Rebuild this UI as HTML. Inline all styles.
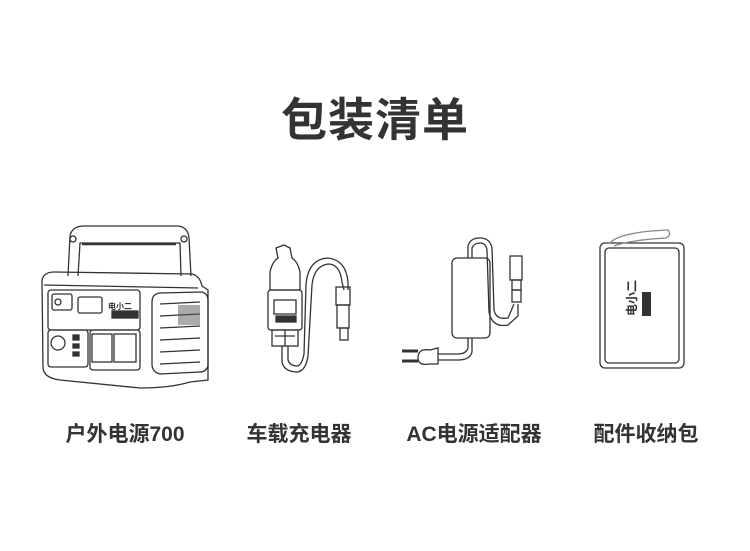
<!DOCTYPE html>
<html><head><meta charset="utf-8"><style>
html,body{margin:0;padding:0;background:#fff;}
body{width:750px;height:551px;position:relative;overflow:hidden;font-family:"Liberation Sans","Noto Sans CJK SC",sans-serif;}
.t{position:absolute;left:0;width:750px;top:84px;text-align:center;font-size:46px;font-weight:bold;color:#333;letter-spacing:1px;}
.l{position:absolute;top:418px;font-size:21px;font-weight:bold;color:#333;transform:translateX(-50%);white-space:nowrap;}
svg{position:absolute;left:0;top:0;}
</style></head><body>
<div class="t">包装清单</div>
<div class="l" style="left:125px">户外电源700</div>
<div class="l" style="left:299px">车载充电器</div>
<div class="l" style="left:474px">AC电源适配器</div>
<div class="l" style="left:646px">配件收纳包</div>
<svg width="750" height="551" fill="none" stroke="#333" stroke-width="1.3">
<path d="M68,276 L70,236 Q72,226 84,226 L178,226 Q188,227 189,238 L191,276"/>
<path d="M78,276 L80,243 L180,243 L181,276"/>
<path d="M82,244 L176,244" stroke-width="2.5"/>
<circle cx="73" cy="239" r="3"/><circle cx="184" cy="239" r="3"/>
<path d="M42,280 Q44,272 54,272 L192,274 Q200,276 202,286 L208,290 L208,380 L190,382 Q170,388 140,388 L60,380 Q44,378 43,368 Z"/>
<path d="M44,285 L198,288"/>
<rect x="48" y="290" width="92" height="40" rx="3"/>
<rect x="52" y="294" width="20" height="16" rx="2"/><circle cx="58" cy="302" r="3"/>
<rect x="78" y="297" width="24" height="16" rx="2"/>
<text x="108" y="309" font-size="8" fill="#333" stroke="none" font-weight="bold">电小二</text>
<rect x="112" y="311" width="26" height="7" fill="#333"/>
<rect x="48" y="330" width="40" height="37" rx="3"/>
<circle cx="58" cy="343" r="7"/>
<rect x="73" y="335" width="6" height="5" fill="#333"/><rect x="73" y="344" width="6" height="4" fill="#333"/><rect x="73" y="352" width="6" height="4" fill="#333"/>
<rect x="90" y="330" width="50" height="40" rx="3"/>
<rect x="92" y="334" width="20" height="28"/><rect x="114" y="334" width="22" height="28"/>
<path d="M152,302 Q152,294 160,293 L202,292 Q208,294 208,300 L208,366 Q206,372 200,372 L160,374 Q152,372 152,364 Z"/>
<path d="M160,304 L200,302 M160,316 L200,314 M160,328 L200,326 M160,340 L200,338 M160,352 L200,350 M160,364 L200,362"/>
<rect x="178" y="305" width="22" height="20" fill="#555" stroke="none" opacity="0.5"/>
<path d="M276,248 L284,245 L290,248 L292,258 Q298,262 300,272 L300,290 L270,290 L270,272 Q272,262 278,258 Z"/>
<rect x="268" y="290" width="34" height="40" rx="3"/>
<rect x="274" y="300" width="22" height="14"/>
<rect x="276" y="316" width="20" height="6" fill="#333"/>
<rect x="272" y="330" width="26" height="16"/>
<path d="M275,336 L295,336 M285,330 L285,346"/>
<path d="M282,346 L282,362 Q284,372 298,372 Q306,370 308,356 L312,285 Q314,266 328,264 Q340,264 342,282 L344,290"/>
<path d="M288,346 L288,360 Q290,366 298,366 Q302,364 304,354 L306,285 Q308,259 328,258 Q346,260 348,282 L348,290"/>
<rect x="336" y="287" width="14" height="18"/><rect x="337" y="305" width="12" height="23"/><rect x="340" y="328" width="8" height="12"/>
<rect x="452" y="258" width="38" height="80" rx="5"/>
<path d="M468,258 L468,246 Q470,238 480,238 Q490,238 492,248 L494,310 Q496,320 508,318 L514,304"/>
<path d="M472,258 L472,248 Q474,243 480,243 Q486,243 487,250 L489,312 Q492,328 508,325 L518,316 L518,304"/>
<rect x="510" y="256" width="12" height="24"/><rect x="512" y="280" width="9" height="10"/><rect x="512" y="290" width="9" height="12"/>
<path d="M468,338 L468,348 Q466,354 458,354 L438,354"/><path d="M472,338 L472,352 Q470,360 458,360 L438,360"/>
<path d="M430,350 Q418,348 418,358 Q418,366 430,364 L438,364 L438,348 Z"/>
<path d="M418,351 L402,351 M418,361 L402,361" stroke-width="3"/>
<rect x="600" y="243" width="84" height="125" rx="5"/>
<rect x="605" y="248" width="74" height="115" rx="4"/>
<path d="M609,244 Q618,232 668,230 Q672,235 666,238 Q630,240 614,246" stroke="#888"/>
<text x="636" y="316" font-size="12" font-weight="bold" fill="#333" stroke="none" transform="rotate(-90 636 316)">电小二</text>
<rect x="642" y="292" width="9" height="24" fill="#333" stroke="none"/>
</svg>
</body></html>
